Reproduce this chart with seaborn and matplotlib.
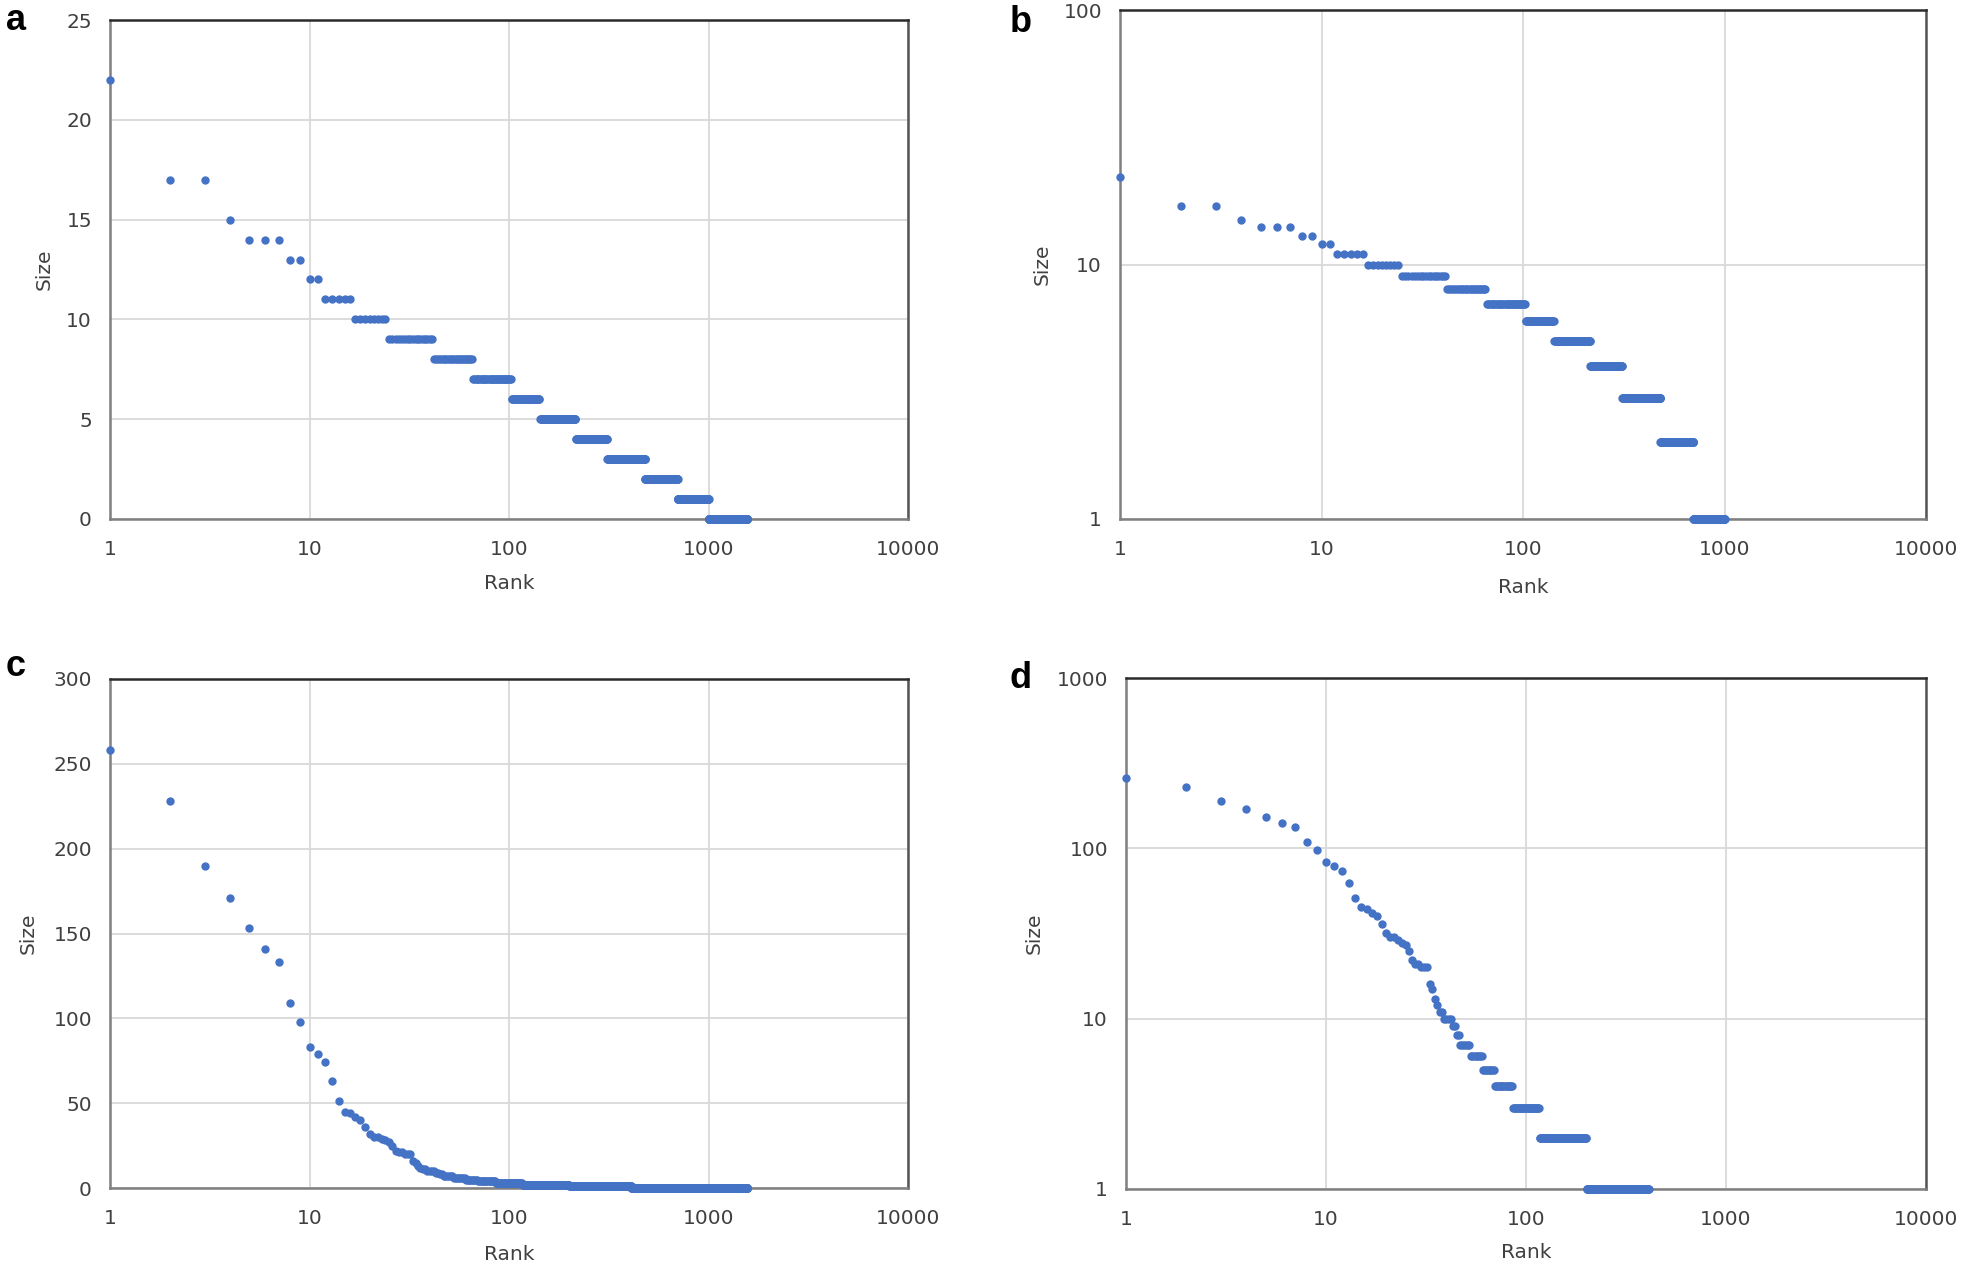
import numpy as np
import pandas as pd
import seaborn as sns
import matplotlib.pyplot as plt
from matplotlib.ticker import FixedLocator, FuncFormatter, NullLocator

# panels a/b: each size level and how many ranks carry it (ranks run 1..N in order)
sizes_ab = [22, 17, 15, 14, 13, 12, 11, 10, 9, 8, 7, 6, 5, 4, 3, 2, 1, 0]
counts_ab = [1, 2, 1, 3, 2, 2, 5, 8, 17, 24, 37, 40, 73, 95, 170, 220, 300, 560]

# panels c/d: first ranks read one by one, then runs of equal size
head_cd = [258, 228, 190, 171, 153, 141, 133, 109, 98, 83,
           79, 74, 63, 51, 45, 44, 42, 40, 36, 32,
           30, 30, 29, 28, 27, 25, 22, 21, 21, 20,
           20, 20, 16, 15, 13, 12, 11, 11, 10, 10,
           10, 10, 9, 9, 8, 8]
tail_sizes_cd = [7, 6, 5, 4, 3, 2, 1, 0]
tail_counts_cd = [6, 8, 9, 16, 31, 84, 210, 1150]

rank_ticks = [1, 10, 100, 1000, 10000]
yticks_a = [0, 5, 10, 15, 20, 25]
yticks_b = [1, 10, 100]
yticks_c = [0, 50, 100, 150, 200, 250, 300]
yticks_d = [1, 10, 100, 1000]

size_ab = np.repeat(sizes_ab, counts_ab)
df_ab = pd.DataFrame({"Rank": np.arange(1, len(size_ab) + 1), "Size": size_ab})
size_cd = np.concatenate([head_cd, np.repeat(tail_sizes_cd, tail_counts_cd)])
df_cd = pd.DataFrame({"Rank": np.arange(1, len(size_cd) + 1), "Size": size_cd})

sns.set_style("white")
plt.rcParams["font.family"] = ["DejaVu Sans"]

BLUE = "#4472C4"
TXT = "#404040"
W, H = 1961, 1269

fig = plt.figure(figsize=(W / 100, H / 100), dpi=100)


def rect(l, t, r, b):
    return [l / W, 1 - b / H, (r - l) / W, (b - t) / H]


def panel(box, df, log_y, yticks, letter, letter_xy, ylab_x, xlab_y):
    ax = fig.add_axes(rect(*box))
    if log_y:
        df = df[df["Size"] > 0]
    sns.scatterplot(data=df, x="Rank", y="Size", ax=ax, color=BLUE, s=36,
                    linewidth=0, clip_on=False, zorder=4)
    ax.set_xscale("log")
    ax.set_xlim(1, 10000)
    if log_y:
        ax.set_yscale("log")
    ax.set_ylim(yticks[0], yticks[-1])

    ax.xaxis.set_major_locator(FixedLocator(rank_ticks))
    ax.xaxis.set_minor_locator(NullLocator())
    ax.yaxis.set_major_locator(FixedLocator(yticks))
    ax.yaxis.set_minor_locator(NullLocator())
    fmt = FuncFormatter(lambda v, _: "{:g}".format(v))
    ax.xaxis.set_major_formatter(fmt)
    ax.yaxis.set_major_formatter(fmt)
    ax.tick_params(axis="both", length=0, labelsize=14.5, labelcolor=TXT)
    ax.tick_params(axis="x", pad=15)
    ax.tick_params(axis="y", pad=13)

    ax.grid(True, color="#d9d9d9", linewidth=1.3)
    ax.set_axisbelow(True)
    for side, col in [("top", "#2b2b2b"), ("right", "#555555"),
                      ("left", "#7f7f7f"), ("bottom", "#7f7f7f")]:
        ax.spines[side].set_color(col)
        ax.spines[side].set_linewidth(1.8)
        ax.spines[side].set_zorder(3)

    ax.set_xlabel("Rank", fontsize=14.5, color=TXT)
    ax.set_ylabel("Size", fontsize=14.5, color=TXT)
    ax.xaxis.set_label_coords(0.5, xlab_y)
    ax.yaxis.set_label_coords(ylab_x, 0.5)
    ax.xaxis.label.set_va("center")
    ax.yaxis.label.set_va("center")

    fig.text(letter_xy[0] / W, 1 - letter_xy[1] / H, letter, fontsize=26,
             fontweight="bold", family=["Liberation Sans", "DejaVu Sans"],
             ha="center", va="center", color="black")
    return ax


panel((110, 20, 908, 519), df_ab, False, yticks_a, "a", (16, 20), -0.083, -0.130)
panel((1120, 10, 1926, 519), df_ab, True, yticks_b, "b", (1021, 22), -0.097, -0.134)
panel((110, 679, 908, 1188), df_cd, False, yticks_c, "c", (16, 666), -0.103, -0.130)
panel((1126, 678, 1926, 1189), df_cd, True, yticks_d, "d", (1021, 679), -0.115, -0.125)

fig.savefig("out.png", dpi=100, facecolor="white")
